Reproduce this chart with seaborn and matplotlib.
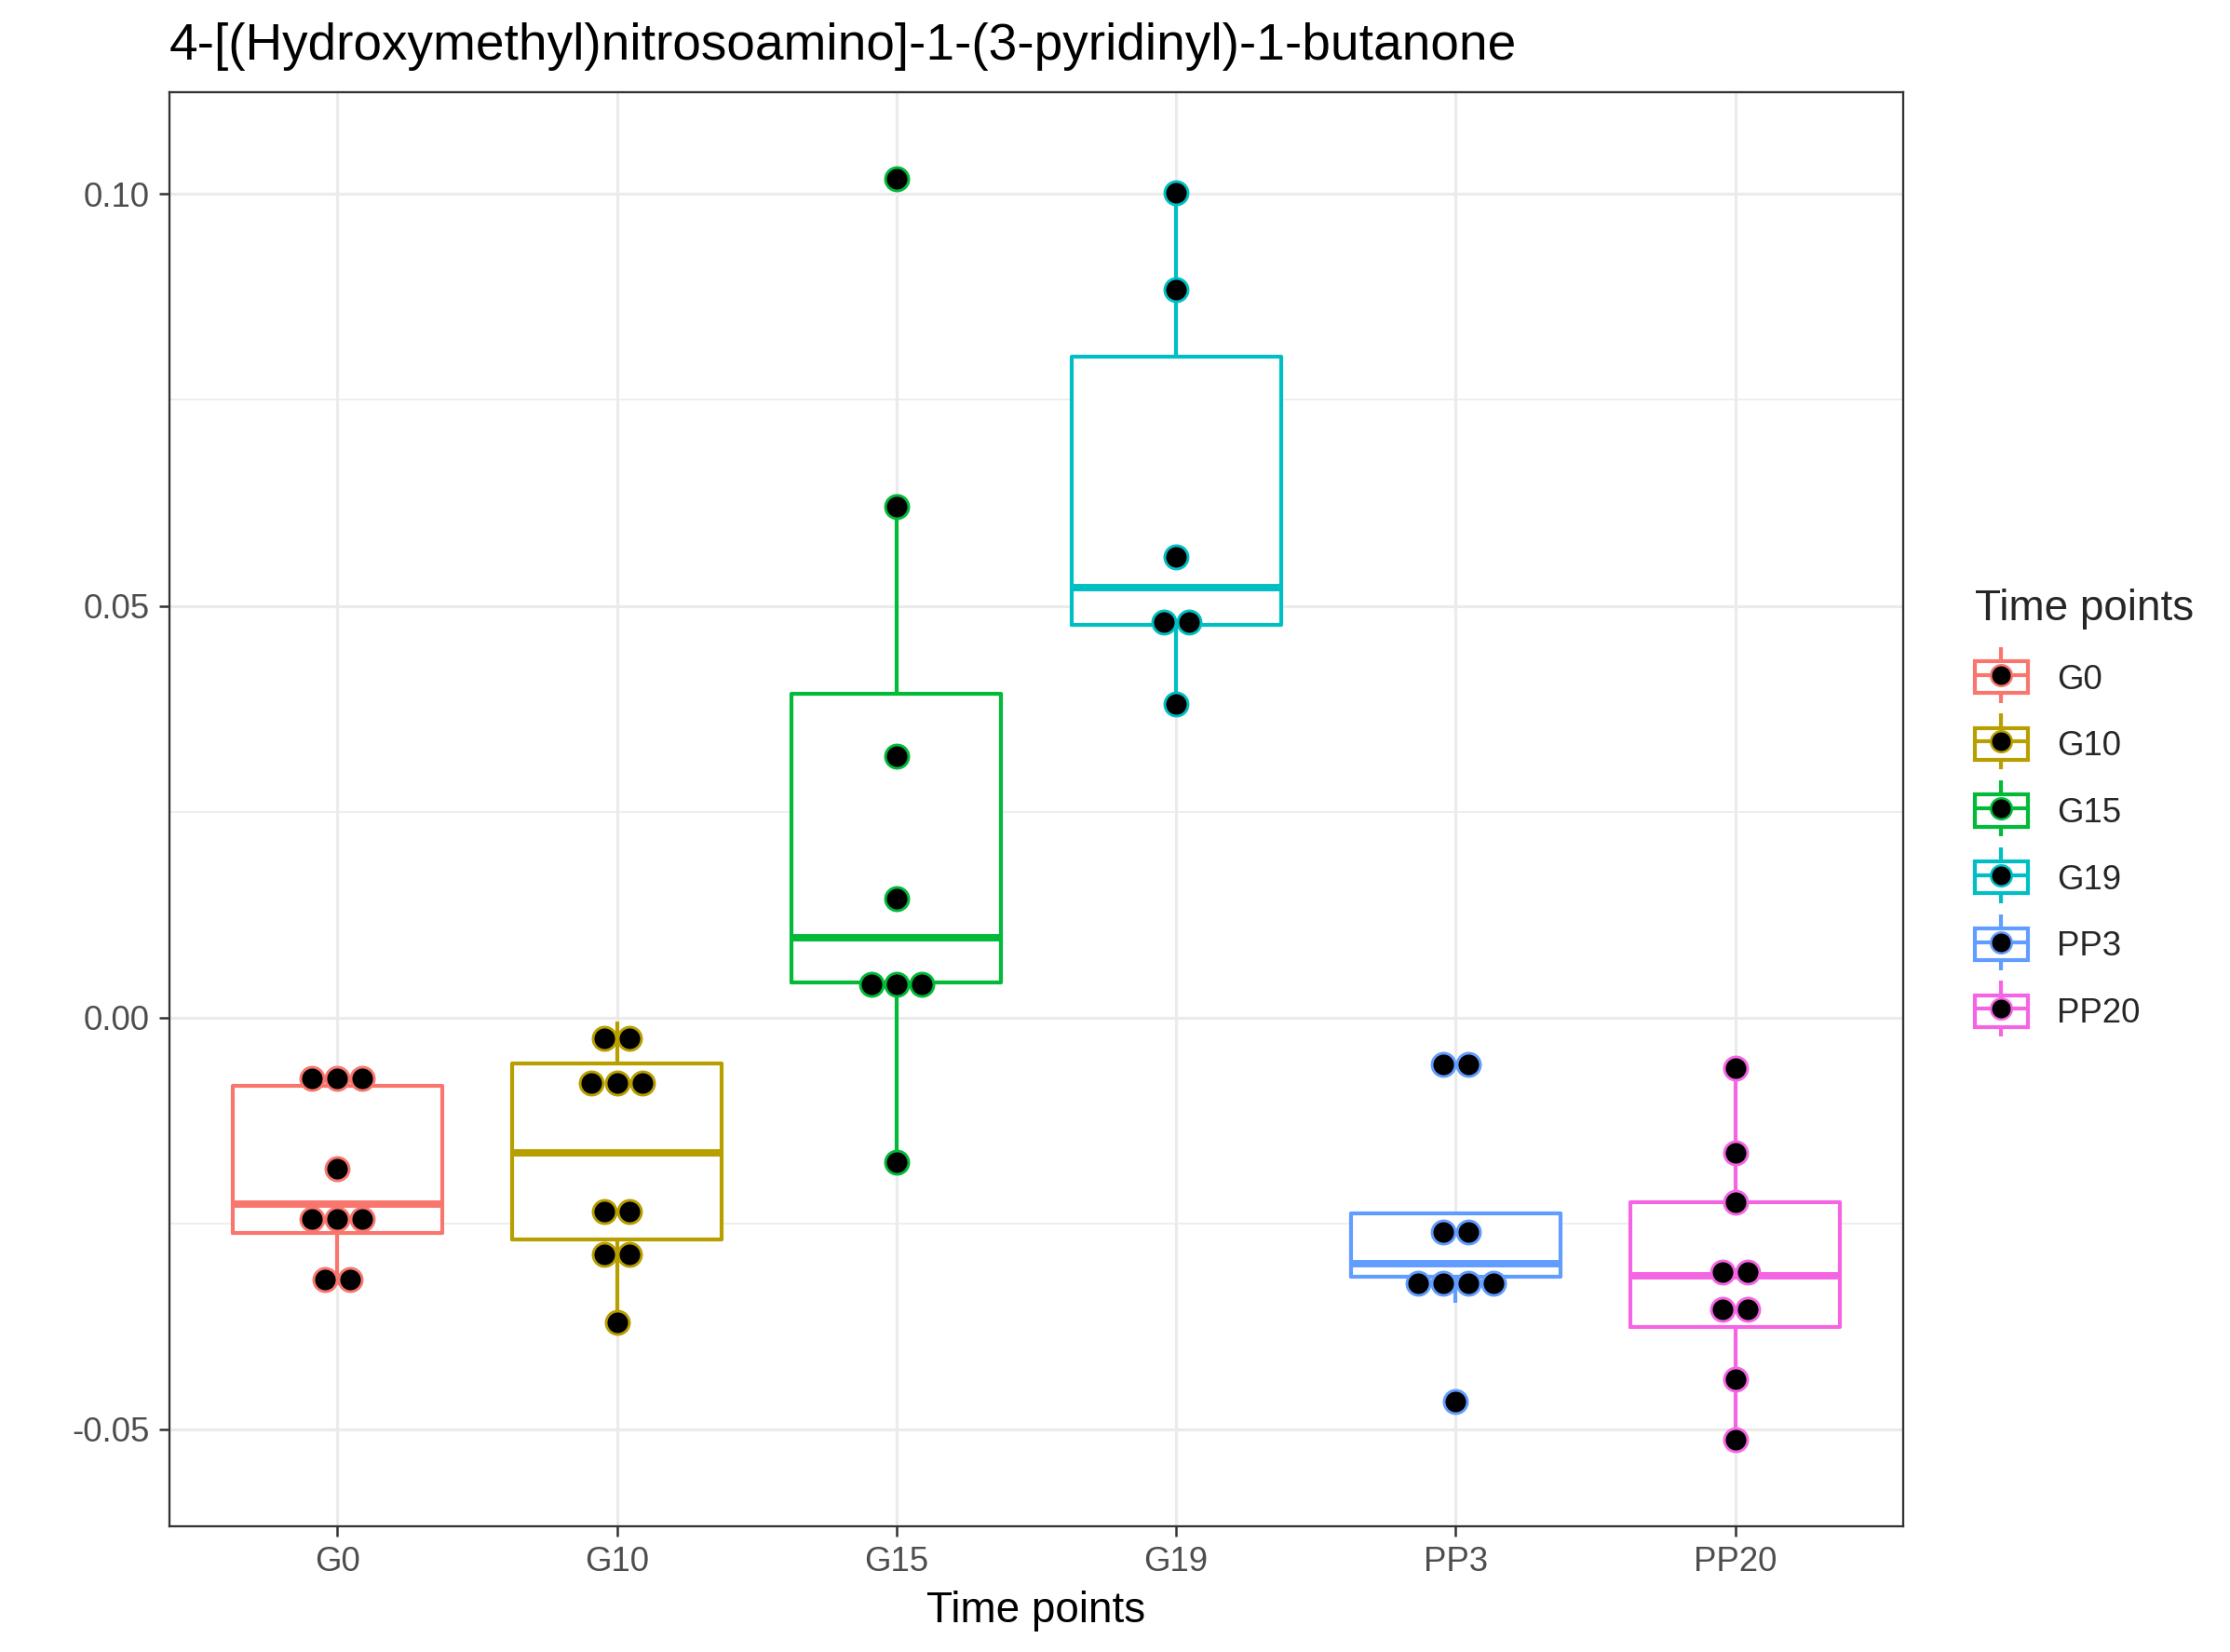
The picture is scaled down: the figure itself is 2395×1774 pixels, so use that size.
import numpy as np
import pandas as pd
import matplotlib
matplotlib.use("Agg")
import matplotlib.pyplot as plt
from matplotlib.lines import Line2D
from matplotlib.patches import Rectangle
from matplotlib.legend_handler import HandlerTuple
from matplotlib.ticker import MultipleLocator, FormatStrFormatter
import seaborn as sns

# values
title = "4-[(Hydroxymethyl)nitrosoamino]-1-(3-pyridinyl)-1-butanone"
groups = ["G0", "G10", "G15", "G19", "PP3", "PP20"]
colors = ["#F8766D", "#B79F00", "#00BA38", "#00BFC4", "#619CFF", "#F564E3"]

g0 = [-0.0325, -0.0310, -0.0262, -0.0244, -0.0226, -0.0183, -0.0083, -0.0072, -0.0064]
g10 = [-0.0370, -0.0298, -0.0277, -0.0246, -0.0224, -0.0105, -0.0060, -0.0055, -0.0046, -0.0005]
g15 = [-0.0175, 0.0031, 0.0046, 0.0050, 0.0144, 0.0317, 0.0621, 0.1019]
g19 = [0.0381, 0.0474, 0.0486, 0.0559, 0.0884, 0.1001]
pp3 = [-0.0466, -0.0346, -0.0315, -0.0307, -0.0299, -0.0282, -0.0238, -0.0060, -0.0053]
pp20 = [-0.0513, -0.0439, -0.0376, -0.0332, -0.0313, -0.0305, -0.0224, -0.0164, -0.0061]

series = [g0, g10, g15, g19, pp3, pp20]
df = pd.DataFrame({
    "group": np.repeat(groups, [len(s) for s in series]),
    "value": np.concatenate(series),
})

# dot-density binning like ggplot's geom_dotplot (binaxis = "y", stackdir = "center")
binwidth = (df["value"].max() - df["value"].min()) / 30
dot_step = 0.09
dots = []
for i, g in enumerate(groups):
    vals = np.sort(df.loc[df["group"] == g, "value"].to_numpy())
    bins = []
    for v in vals:
        if bins and v < bins[-1][0] + binwidth:
            bins[-1].append(v)
        else:
            bins.append([v])
    for b in bins:
        center = (b[0] + b[-1]) / 2
        k = len(b)
        for j in range(k):
            dots.append((g, i + (j - (k - 1) / 2) * dot_step, center))
dots = pd.DataFrame(dots, columns=["group", "x", "y"])

sns.set_theme(style="white")
plt.rcParams["font.family"] = ["Liberation Sans", "DejaVu Sans"]
plt.rcParams["axes.unicode_minus"] = False

fig = plt.figure(figsize=(2395 / 300, 1774 / 300), dpi=300)
ax = fig.add_axes([182 / 2395, 1 - 1639 / 1774, (2044 - 182) / 2395, (1639 - 99) / 1774])

box_lw = 1.0
common = dict(data=df, x="group", y="value", order=groups, width=0.75,
              showfliers=False, showcaps=False, linewidth=box_lw, ax=ax)
# white backing so the grid does not show through the boxes
sns.boxplot(color="white", linecolor="white", fill=True, **common)
sns.boxplot(hue="group", hue_order=groups, palette=colors, fill=False,
            legend=False, medianprops=dict(linewidth=1.9), **common)

for g, c in zip(groups, colors):
    sub = dots[dots["group"] == g]
    sns.scatterplot(x=sub["x"], y=sub["y"], color="black", edgecolor=c,
                    linewidth=0.7, s=36, zorder=5, legend=False, ax=ax)

# axis range: data +- half binwidth, then 5% expansion
lo = df["value"].min() - binwidth / 2
hi = df["value"].max() + binwidth / 2
pad = 0.05 * (hi - lo)
ax.set_ylim(lo - pad, hi + pad)
ax.set_xlim(-0.6, len(groups) - 0.4)

ax.yaxis.set_major_locator(MultipleLocator(0.05))
ax.yaxis.set_minor_locator(MultipleLocator(0.025))
ax.yaxis.set_major_formatter(FormatStrFormatter("%.2f"))
ax.set_axisbelow(True)
ax.grid(True, which="major", color="#EBEBEB", linewidth=0.75)
ax.grid(True, which="minor", axis="y", color="#EBEBEB", linewidth=0.4)
ax.tick_params(which="major", length=2.75, width=0.6, color="#333333",
               labelsize=8.8, labelcolor="#4D4D4D", pad=2.4, bottom=True, left=True)
ax.tick_params(which="minor", length=0)
for sp in ax.spines.values():
    sp.set_color("#333333")
    sp.set_linewidth(0.55)

ax.set_xlabel("Time points", fontsize=11, color="black", labelpad=3)
ax.set_ylabel("")
ax.set_title(title, loc="left", fontsize=13.2, color="black", pad=8.5)

handles = []
for c in colors:
    whisk = Line2D([], [], color=c, marker="|", markersize=14.4, markeredgewidth=box_lw, linestyle="none")
    rect = Rectangle((0, 0), 1, 1, facecolor="white", edgecolor=c, linewidth=box_lw)
    med = Line2D([], [], color=c, linewidth=box_lw)
    dot = Line2D([], [], marker="o", markersize=5.4, markerfacecolor="black",
                 markeredgecolor=c, markeredgewidth=0.6, linestyle="none")
    handles.append((whisk, rect, med, dot))

fig.legend(handles, groups, handler_map={tuple: HandlerTuple(ndivide=1, pad=0)},
           loc="center left", bbox_to_anchor=(2121 / 2395, 1 - 869 / 1774),
           frameon=False, title="Time points", title_fontsize=11, fontsize=8.8,
           alignment="left", borderpad=0, borderaxespad=0, handlelength=1.55,
           handleheight=1.06, handletextpad=0.85, labelspacing=0.93)

fig.savefig("out.png", dpi=300)
